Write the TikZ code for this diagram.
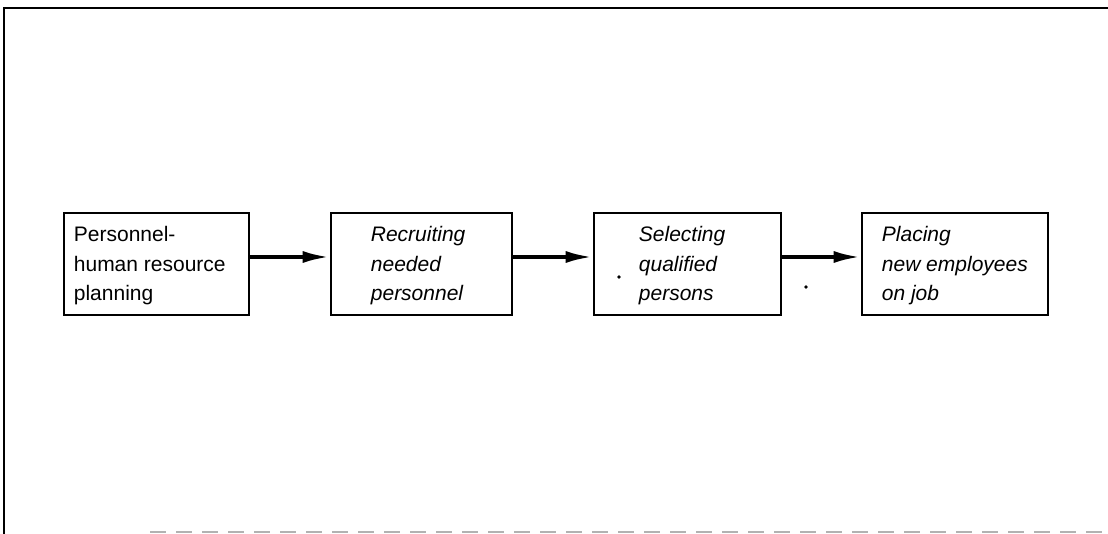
\documentclass[tikz,border=0pt]{standalone}
\usepackage{fontspec}
\setmainfont{Liberation Sans}
\usetikzlibrary{arrows.meta}
\tikzset{
  box/.style={draw=black, line width=2.6pt, rectangle, inner sep=0pt},
  lbl/.style={anchor=west, align=left, inner sep=0pt, font=\fontsize{21}{29.5}\selectfont},
  flow/.style={line width=3.2pt, -{Latex[length=26pt,width=12pt]}, shorten >=1pt},
  frame/.style={line width=2.5pt, black},
  speck/.style={fill=black, circle, inner sep=1.4pt}
}
\begin{document}
\begin{tikzpicture}[x=1pt,y=-1pt]
\useasboundingbox (0,0) rectangle (1108,534);
% outer frame
\draw[frame] (4,534) -- (4,8) -- (1108,8);
\draw[line width=2pt, gray!60, dash pattern=on 16pt off 10pt] (150,532) -- (1108,532);
% boxes
\node[box, minimum width=185pt, minimum height=102pt] (b1) at (156.5,264) {};
\node[box, minimum width=181pt, minimum height=102pt] (b2) at (421.5,264) {};
\node[box, minimum width=187pt, minimum height=102pt] (b3) at (687.5,264) {};
\node[box, minimum width=186pt, minimum height=102pt] (b4) at (955,264) {};
% texts
\node[lbl] (t1) at ([xshift=11pt,yshift=-2pt]b1.west) {Personnel-\\human resource\\planning};
\node[lbl] (t2) at ([xshift=41pt,yshift=-2pt]b2.west) {\itshape Recruiting\\\itshape needed\\\itshape personnel};
\node[lbl] (t3) at ([xshift=46pt,yshift=-2pt]b3.west) {\itshape Selecting\\\itshape qualified\\\itshape persons};
\node[lbl] (t4) at ([xshift=21pt,yshift=-2pt]b4.west) {\itshape Placing\\\itshape new employees\\\itshape on job};
% connectors
\coordinate (a1s) at ([yshift=7pt]b1.east);
\coordinate (a1e) at ([yshift=7pt]b2.west);
\coordinate (a2s) at ([yshift=7pt]b2.east);
\coordinate (a2e) at ([yshift=7pt]b3.west);
\coordinate (a3s) at ([yshift=7pt]b3.east);
\coordinate (a3e) at ([yshift=7pt]b4.west);
\draw[flow] (a1s) -- (a1e);
\draw[flow] (a2s) -- (a2e);
\draw[flow] (a3s) -- (a3e);
% specks
\node[speck] (s1) at (619,277) {};
\node[speck] (s2) at (806,287) {};
\end{tikzpicture}
\end{document}
